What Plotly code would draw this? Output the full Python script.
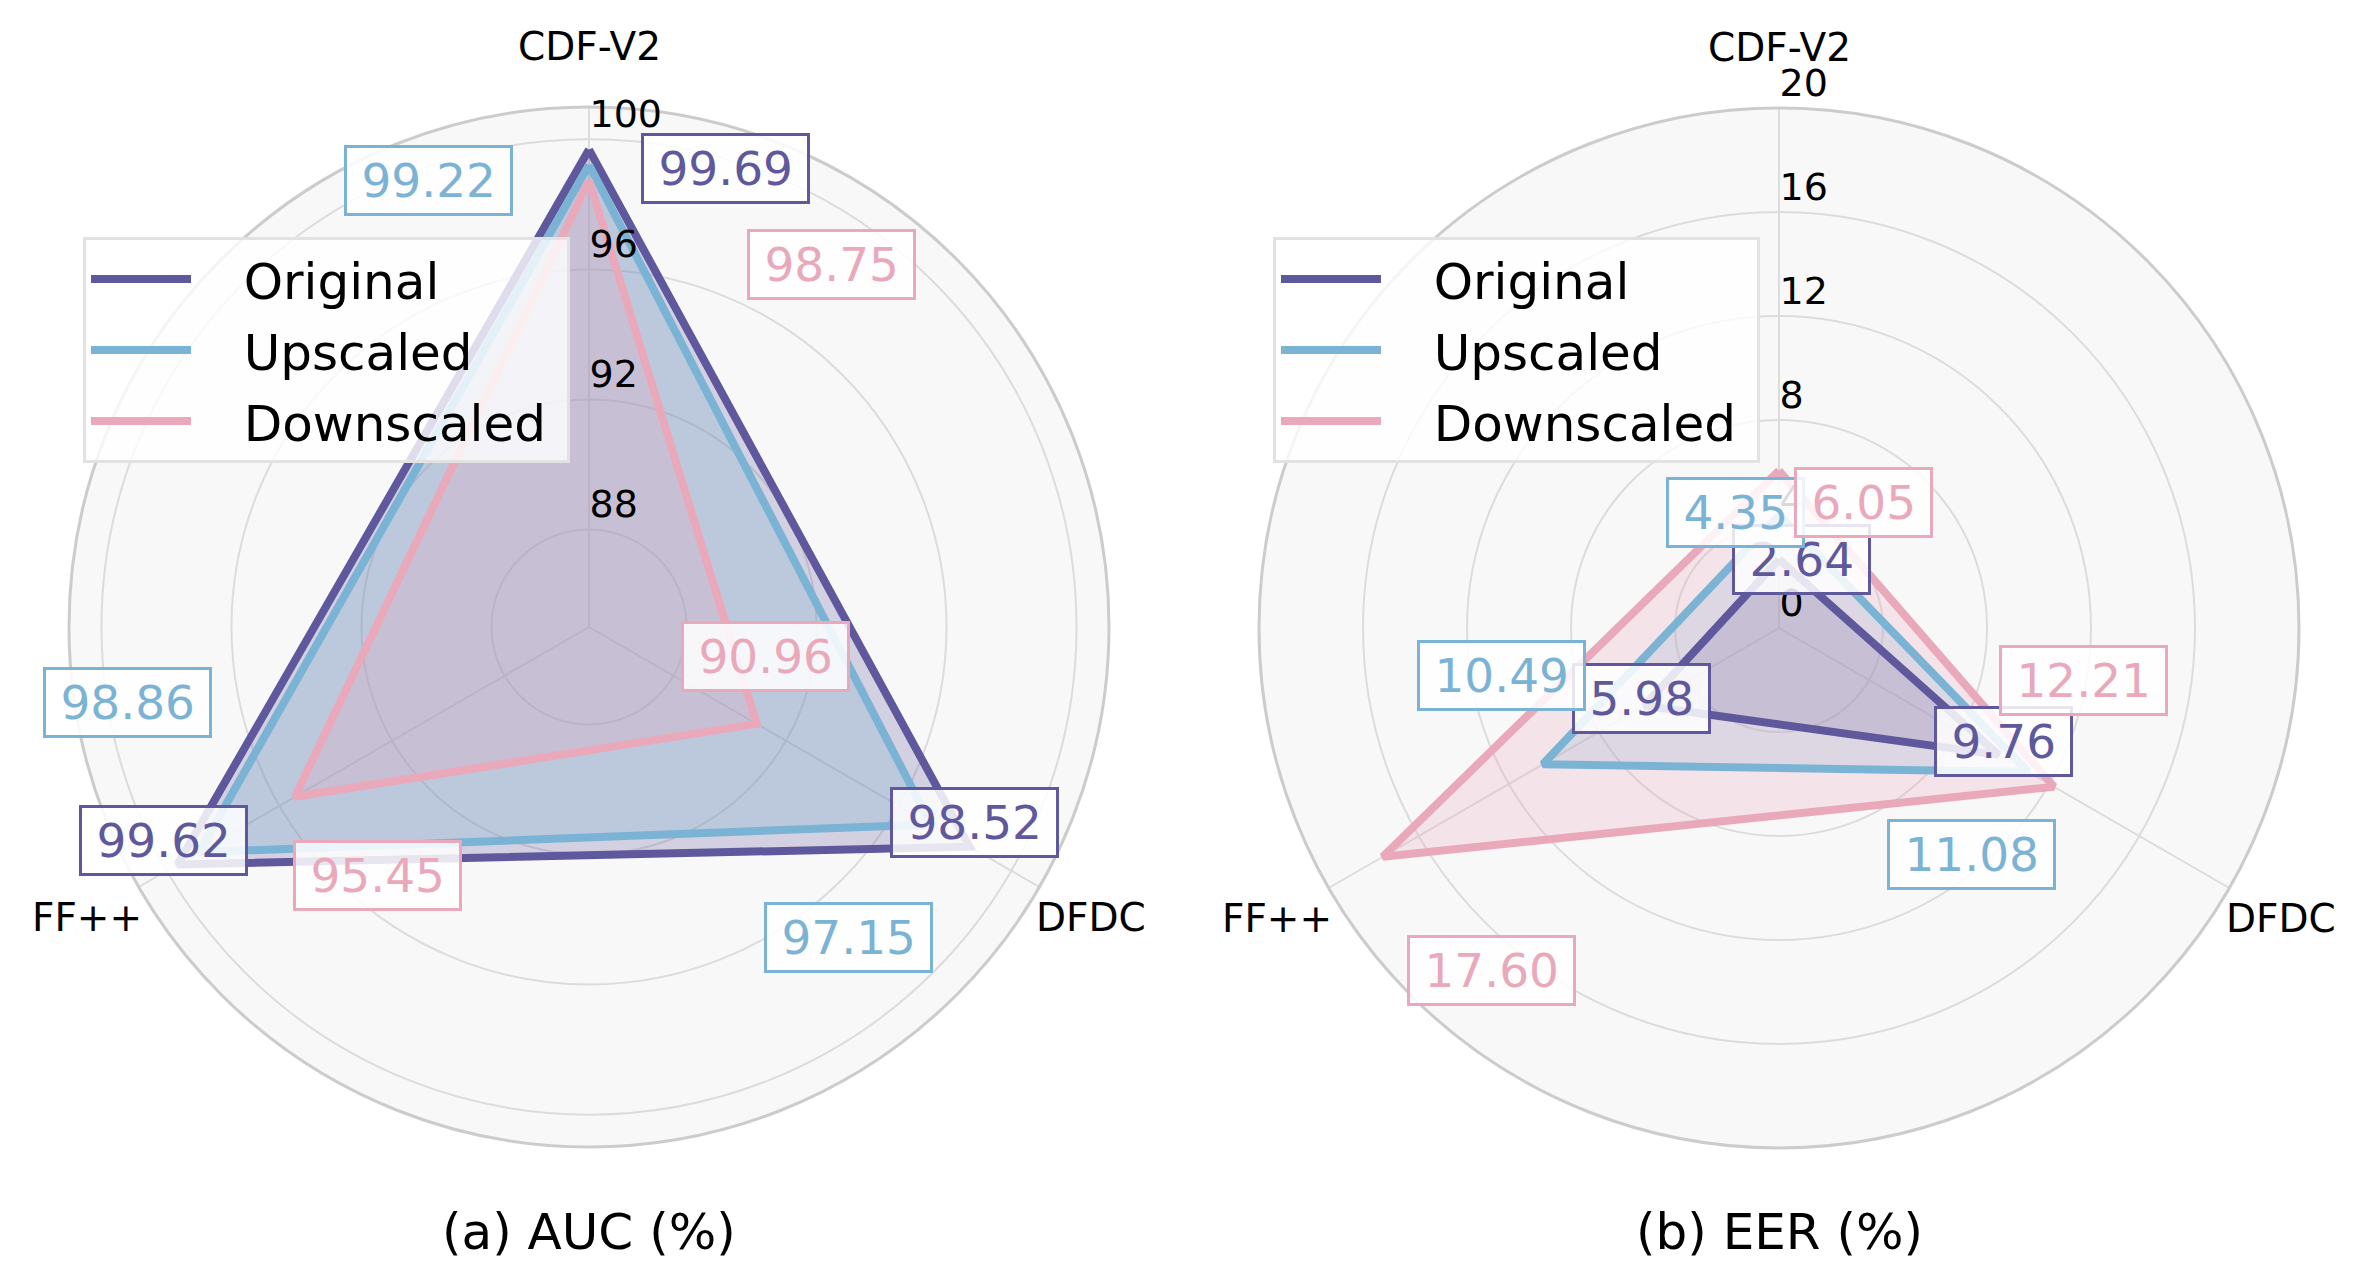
import math
import plotly.graph_objects as go

# ---------------- data ----------------
categories = ["CDF-V2", "FF++", "DFDC"]
series_names = ["Original", "Upscaled", "Downscaled"]

auc_original = [99.69, 99.62, 98.52]
auc_upscaled = [99.22, 98.86, 97.15]
auc_downscaled = [98.75, 95.45, 90.96]

eer_original = [2.64, 5.98, 9.76]
eer_upscaled = [4.35, 10.49, 11.08]
eer_downscaled = [6.05, 17.60, 12.21]

auc_ticks = [88, 92, 96, 100]
eer_ticks = [0, 4, 8, 12, 16, 20]

# ---------------- style ----------------
W, H = 2369, 1288
FONT = "DejaVu Sans"
colors = ["#5f589c", "#7bb3d5", "#e9a9bb"]
fills = ["rgba(95,88,156,0.25)", "rgba(123,179,213,0.25)", "rgba(233,169,187,0.25)"]
NB = "\u00a0"
THIN = "\u2009"

R = 520
LABEL_R = 580
panels = [
    dict(key="polar", cx=589, cy=627, rng=[85, 101], ticks=auc_ticks,
         data=[auc_original, auc_upscaled, auc_downscaled], legend="legend",
         title="(a) AUC (%)", fmt="{:.2f}",
         offsets=[[(136, 19), (-14, -24), (5, -24)],
                  [(-161, 16), (-71, -150), (-82, 113)],
                  [(242, 84), (83, 79), (9, -67)]]),
    dict(key="polar2", cx=1779, cy=628, rng=[0, 20], ticks=eer_ticks,
         data=[eer_original, eer_upscaled, eer_downscaled], legend="legend2",
         title="(b) EER (%)", fmt="{:.2f}",
         offsets=[[(22, 0), (-3, -7), (5, -13)],
                  [(-44, -2), (-41, -89), (-57, 82)],
                  [(84, 32), (109, 114), (30, -106)]]),
]
cat_screen_angle = [90, 210, 330]

fig = go.Figure()
annotations = []

for p in panels:
    subplot = p["key"]
    # fills first (below every line, like matplotlib's zorder)
    for i, name in enumerate(series_names):
        vals = p["data"][i]
        fig.add_trace(go.Scatterpolar(
            r=vals + [vals[0]], theta=categories + [categories[0]],
            mode="lines", line=dict(width=0, color=colors[i]),
            fill="toself", fillcolor=fills[i], subplot=subplot,
            showlegend=False, hoverinfo="skip",
        ))
    # outlines
    for i, name in enumerate(series_names):
        vals = p["data"][i]
        fig.add_trace(go.Scatterpolar(
            r=vals + [vals[0]], theta=categories + [categories[0]],
            mode="lines", name=NB * 3 + name + NB,
            line=dict(color=colors[i], width=8),
            subplot=subplot, legend=p["legend"],
            legendgroup=p["key"] + name, hoverinfo="skip",
        ))
    # category labels around the circle
    for j, cat in enumerate(categories):
        a = math.radians(cat_screen_angle[j])
        xs = p["cx"] + LABEL_R * math.cos(a)
        ys = p["cy"] - LABEL_R * math.sin(a)
        annotations.append(dict(
            x=xs / W, y=1 - ys / H, xref="paper", yref="paper", text=cat,
            showarrow=False, xanchor="center", yanchor="middle",
            font=dict(family=FONT, size=39, color="black"),
        ))
    # value labels
    lo, hi = p["rng"]
    for i, name in enumerate(series_names):
        for j, cat in enumerate(categories):
            v = p["data"][i][j]
            rp = (v - lo) / (hi - lo) * R
            a = math.radians(cat_screen_angle[j])
            dx, dy = p["offsets"][i][j]
            xs = p["cx"] + rp * math.cos(a) + dx
            ys = p["cy"] - rp * math.sin(a) + dy
            annotations.append(dict(
                x=xs / W, y=1 - ys / H, xref="paper", yref="paper",
                text=THIN + p["fmt"].format(v) + THIN, showarrow=False,
                xanchor="center", yanchor="middle",
                font=dict(family=FONT, size=47, color=colors[i]),
                bgcolor="rgba(255,255,255,0.85)",
                bordercolor=colors[i], borderwidth=3, borderpad=5,
            ))
    annotations.append(dict(
        x=p["cx"] / W, y=1 - 1232 / H, xref="paper", yref="paper",
        text=p["title"], showarrow=False, xanchor="center", yanchor="middle",
        font=dict(family=FONT, size=50, color="black"),
    ))


def polar_layout(p):
    cx, cy = p["cx"], p["cy"]
    return dict(
        domain=dict(x=[(cx - R) / W, (cx + R) / W],
                    y=[(H - cy - R) / H, (H - cy + R) / H]),
        bgcolor="#f8f8f8",
        radialaxis=dict(
            range=p["rng"], tickvals=p["ticks"],
            ticktext=[f"{t}<br>{NB}" for t in p["ticks"]],
            angle=90, side="clockwise", tickangle=90,
            showline=False, ticks="", gridcolor="#dcdcdc", gridwidth=1.5,
            tickfont=dict(family=FONT, size=38, color="black"),
        ),
        angularaxis=dict(
            type="category", categoryarray=categories, rotation=90,
            direction="counterclockwise", showline=True, linecolor="#cccccc",
            linewidth=3, gridcolor="#dcdcdc", gridwidth=1.5,
            showticklabels=False, ticks="",
        ),
    )


legend_common = dict(
    font=dict(family=FONT, size=50, color="black"),
    bgcolor="rgba(255,255,255,0.8)", bordercolor="#e2e2e2", borderwidth=3,
    xanchor="left", yanchor="top", y=1 - 237 / H, itemwidth=100,
    tracegroupgap=3,
)

fig.update_layout(
    width=W, height=H,
    margin=dict(l=0, r=0, t=0, b=0),
    paper_bgcolor="white",
    font=dict(family=FONT),
    polar=polar_layout(panels[0]),
    polar2=polar_layout(panels[1]),
    legend=dict(x=83 / W, **legend_common),
    legend2=dict(x=1273 / W, **legend_common),
    annotations=annotations,
)

fig.write_html("out.html")
